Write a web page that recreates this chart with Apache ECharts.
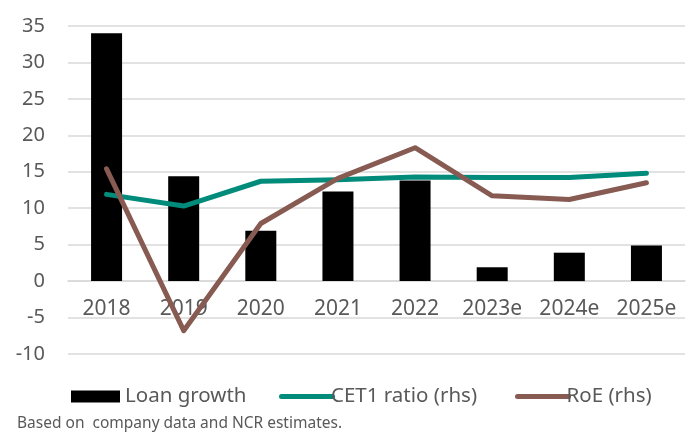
<!DOCTYPE html>
<html>
<head>
<meta charset="utf-8">
<script src="https://cdn.jsdelivr.net/npm/echarts@6/dist/echarts.min.js"></script>
<style>
  html, body { margin: 0; padding: 0; background: #ffffff; }
  #chart { width: 692px; height: 432px; }
</style>
</head>
<body>
<div id="chart"></div>
<script>
// Years on the category axis
const years = ['2018', '2019', '2020', '2021', '2022', '2023e', '2024e', '2025e'];
// Loan growth, % (bars, left axis)
const loanGrowth = [34.0, 14.4, 6.9, 12.3, 13.8, 1.9, 3.9, 4.9];
// CET1 ratio, % (line, right-hand scale)
const cet1Ratio = [11.9, 10.3, 13.7, 13.9, 14.3, 14.2, 14.2, 14.8];
// Return on equity, % (line, right-hand scale)
const roe = [15.4, -6.8, 7.9, 14.1, 18.3, 11.7, 11.2, 13.5];
// Shared value range of both scales
const axisMin = -10;
const axisMax = 35;
const axisStep = 5;

const FONT = '"Noto Sans", "Liberation Sans", sans-serif';
const TEXT = '#595959';
const GRID = '#d9d9d9';
const TEAL = '#008B7A';
const BROWN = '#875A52';
// thick line with rounded ends for the line-series legend keys
const LINE_KEY = 'path://M2.5,0 L53.5,0 A2.5,2.5 0 0 1 53.5,5 L2.5,5 A2.5,2.5 0 0 1 2.5,0 Z';

const chart = echarts.init(document.getElementById('chart'), null, { renderer: 'canvas' });

const legendText = { color: TEXT, fontFamily: FONT, fontSize: 20.5 };

// the category labels sit just under the zero line
const plotTop = 26, plotBottomGap = 78;
const plotHeight = 432 - plotTop - plotBottomGap;
const zeroFromBottom = plotHeight * (0 - axisMin) / (axisMax - axisMin);

chart.setOption({
  animation: false,
  backgroundColor: '#ffffff',
  grid: { left: 68, right: 7, top: plotTop, bottom: plotBottomGap, containLabel: false },
  xAxis: {
    type: 'category',
    data: years,
    boundaryGap: true,
    offset: -zeroFromBottom,
    axisLine: { show: true, onZero: false, lineStyle: { color: GRID, width: 1.5 } },
    axisTick: { show: false },
    axisLabel: { color: TEXT, fontFamily: FONT, fontSize: 21, margin: 17, interval: 0 }
  },
  yAxis: [
    {
      type: 'value',
      min: axisMin, max: axisMax, interval: axisStep,
      axisLine: { show: false },
      axisTick: { show: false },
      axisLabel: { color: TEXT, fontFamily: FONT, fontSize: 20, margin: 23 },
      splitLine: { lineStyle: { color: GRID, width: 1.5 } }
    },
    {
      // right-hand scale for the ratio lines, kept hidden
      type: 'value',
      min: axisMin, max: axisMax, interval: axisStep,
      show: false,
      splitLine: { show: false }
    }
  ],
  legend: [
    {
      left: 66, top: 381,
      data: [{ name: 'Loan growth', icon: 'rect' }],
      itemWidth: 49, itemHeight: 12,
      textStyle: Object.assign({ padding: [0, 0, 0, 0] }, legendText)
    },
    {
      left: 274, top: 381,
      data: [{ name: 'CET1 ratio (rhs)', icon: LINE_KEY }],
      itemWidth: 56, itemHeight: 5,
      textStyle: Object.assign({ padding: [0, 0, 0, -9] }, legendText)
    },
    {
      left: 510, top: 381,
      data: [{ name: 'RoE (rhs)', icon: LINE_KEY }],
      itemWidth: 57, itemHeight: 5,
      textStyle: Object.assign({ padding: [0, 0, 0, -10] }, legendText)
    }
  ],
  graphic: [
    {
      type: 'text',
      left: 17, top: 416,
      style: {
        text: 'Based on  company data and NCR estimates.',
        fill: TEXT,
        font: '15.5px ' + FONT
      }
    }
  ],
  series: [
    {
      name: 'Loan growth',
      type: 'bar',
      data: loanGrowth,
      barWidth: 31,
      itemStyle: { color: '#000000' },
      z: 1
    },
    {
      name: 'CET1 ratio (rhs)',
      type: 'line',
      yAxisIndex: 1,
      data: cet1Ratio,
      symbol: 'none',
      lineStyle: { color: TEAL, width: 5, cap: 'round', join: 'round' },
      itemStyle: { color: TEAL },
      z: 3
    },
    {
      name: 'RoE (rhs)',
      type: 'line',
      yAxisIndex: 1,
      data: roe,
      symbol: 'none',
      lineStyle: { color: BROWN, width: 5, cap: 'round', join: 'round' },
      itemStyle: { color: BROWN },
      z: 4
    }
  ]
});
</script>
</body>
</html>
